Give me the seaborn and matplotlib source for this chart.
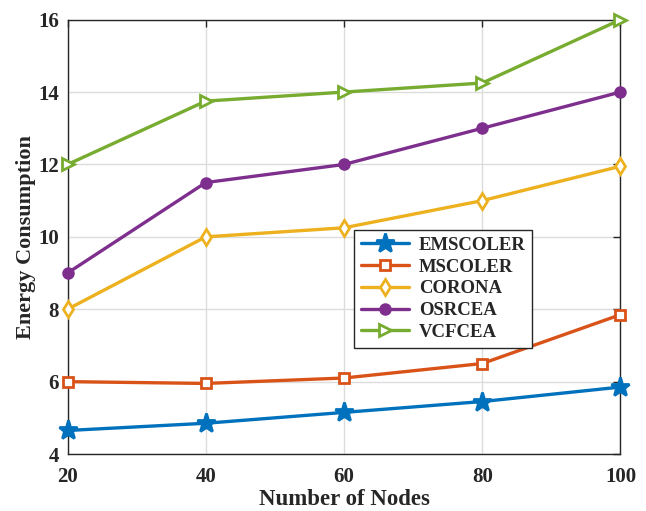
import matplotlib
matplotlib.use("Agg")
import matplotlib.pyplot as plt
import seaborn as sns
import pandas as pd

nodes = [20, 40, 60, 80, 100]
emscoler = [4.65, 4.85, 5.15, 5.45, 5.85]
mscoler = [6.0, 5.95, 6.1, 6.5, 7.85]
corona = [8.0, 10.0, 10.25, 11.0, 11.95]
osrcea = [9.0, 11.5, 12.0, 13.0, 14.0]
vcfcea = [12.0, 13.75, 14.0, 14.25, 16.0]

names = ["EMSCOLER", "MSCOLER", "CORONA", "OSRCEA", "VCFCEA"]
series = [emscoler, mscoler, corona, osrcea, vcfcea]
colors = ["#0072BD", "#D95319", "#EDB120", "#7E2F8E", "#77AC30"]
markers = ["*", "s", "d", "o", ">"]
msizes = [14, 6.5, 8.5, 7, 9]
faces = [None, "white", "white", None, "white"]

sns.set_theme(style="whitegrid")
plt.rcParams["font.family"] = ["Liberation Serif", "DejaVu Serif"]
plt.rcParams["font.weight"] = "bold"

fig = plt.figure(figsize=(6.46, 5.11), dpi=100)
ax = fig.add_axes([0.1045, 0.1115, 0.856, 0.850])

for name, vals, c, m, ms, fc in zip(names, series, colors, markers, msizes, faces):
    df = pd.DataFrame({"Nodes": nodes, "Energy": vals})
    sns.lineplot(data=df, x="Nodes", y="Energy", ax=ax, color=c, marker=m,
                 markersize=ms, linewidth=2.4, label=name,
                 markerfacecolor=(fc if fc else c), markeredgecolor=c,
                 markeredgewidth=2.0, clip_on=False, zorder=3)

ax.set_xlim(20, 100)
ax.set_ylim(4, 16)
ax.set_xticks(nodes)
ax.set_yticks([4, 6, 8, 10, 12, 14, 16])
ax.set_facecolor("white")
ax.grid(True, color="#dcdcdc", linewidth=1.0)
for sp in ax.spines.values():
    sp.set_visible(True)
    sp.set_color("#262626")
    sp.set_linewidth(1.0)
ax.tick_params(direction="in", top=True, right=True, length=5, width=1,
               color="#262626", labelsize=15, labelcolor="#262626")
ax.tick_params(axis="x", pad=9)
ax.tick_params(axis="y", pad=6)
for lbl in ax.get_xticklabels() + ax.get_yticklabels():
    lbl.set_fontweight("bold")

ax.set_xlabel("Number of Nodes", fontsize=16.5, fontweight="bold", color="#262626",
              labelpad=2)
ax.set_ylabel("Energy Consumption", fontsize=16, fontweight="bold",
              color="#262626", labelpad=2)

leg = ax.legend(loc="upper left", bbox_to_anchor=(0.518, 0.5155),
                borderaxespad=0, frameon=True, fancybox=False,
                edgecolor="#262626", handlelength=2.6, borderpad=0.35,
                labelspacing=0.25, handletextpad=0.5,
                prop={"weight": "bold", "size": 13.5})
leg.get_frame().set_linewidth(1.0)
leg.get_frame().set_alpha(1.0)

fig.savefig("out.png", dpi=100, facecolor="white")
